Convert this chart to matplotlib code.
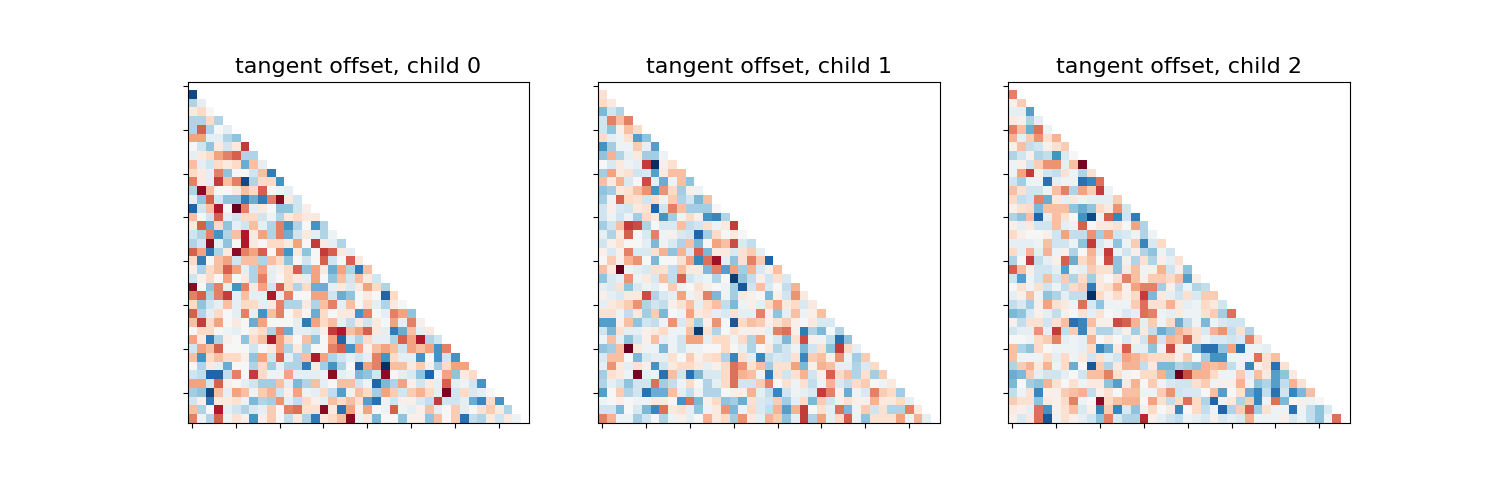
#!/usr/bin/env python3
import numpy as np
import matplotlib
matplotlib.use("Agg")
import matplotlib.pyplot as plt

# cell values, row by row (row 0 is empty), tenths of the colour range
CHILD_0 = [
    [],
    [-9],
    [-3, -1],
    [1, 2, 0],
    [-3, -3, 2, -3],
    [-3, 6, -3, 0, -1],
    [4, 4, -1, -1, -3, -4],
    [0, -2, -4, 1, -2, 1, 7],
    [-1, 1, 2, 4, 5, 6, -3, -3],
    [3, -1, -2, 2, 1, 2, -5, 3, -1],
    [2, 1, -1, 5, -4, 0, 0, -2, 3, -7],
    [5, 1, -1, 7, 3, 5, -9, -3, 2, 2, -6],
    [-3, 9, 3, 0, 0, 1, 3, 2, 6, 0, -0.5, -1],
    [-1, -4, 6, -2, -4, -4, -7, -5, -7, 5, 9, 1, -2],
    [-8, -2, 3, 8, 0, 10, 5, -1, 1, 0, -4, -4, -2, 0.5],
    [3, 0, -2, 6, -1, -2, 2, 2, -2, -0.5, -3, 1, 2, 1, 1],
    [1, 6, -5, 2, -4, -1, -2, 3, -1, -3, 5, -6, -3, 0, -6, -3],
    [-2, -3, 5, -6, -3, 3, 8, 1, 4, -3, 5, -5, -2, 1, -1, -3, -0.5],
    [-3, -2, 9, -1, -4, 0, 8, 1, 0, 2, 2, 1, 4, 0, 7, 1, -1, -3],
    [6, 4, -7, -3, 1, 9, 5, 4, 6, 0, 5, -6, 1, -4, 0, 7, 6, 1, -1],
    [2, -7, 0, 3, 4, -2, 3, 3, -3, 3, 2, -4, 0, -2, 0, 6, -2, 0, 6, 1],
    [0.5, -3, 2, 3, 6, 4, -1, -3, 4, -1, 0.5, 2, 6, -4, 4, 1, -5, 4, -3, -7, 3],
    [-2, 0.5, 2, 0, 4, 0, 1, -3, 5, -1, 0, 2, 1, -1, 4, 0, -4, 3, -2, 3, 1, -2],
    [9, 0, -4, 5, -1, -6, 5, 1, 4, -2, 6, 2, -3, 2, -5, -5, -1, 1, -1.5, 1, 4, 2, -3],
    [5, 6, -3, 5, 7, -1, 3, -1, -1, 8, -1, 5, 0, 0, 4, 4, -2, -5, -4, 0, 1, 0, -8, 2],
    [2, -4, -2, -1, 3, -1, 2, 2, -1, 1, 5, -3, -3, 1, -3, 3, 5, -1, 3, 0, 2, -1, -3, 1, 0],
    [6, -3, -1, 2, 0, -1, 5, -1, -6, 3, 5, 0, 2, 0, -5, 2, 0, 1, 1, -6, 5, 0, -1, 5, 4, -4],
    [3, 7, 2, 4, 0, 1, 0, -5, 4, 0, 0, 0, -1, -7, 4, 2, 3, -1, -2.5, 1, -2, 1, 0, 4, -1, 5, 0.5],
    [0, 2, 2, 0, -0.5, -1, 0, 1, 2, -3, 5, -5, -1, -1, -1.5, 0.5, 7, 8, 3, 4, 6, 1, -1, -7, -5, 3, -1, 1],
    [4, 1, -7, -3, 0.5, 0, -4, 2, 3, 8, 4, 2, 0, 3, -4, 0, 4, -8, -1.5, -3, 2, -1, -1, -3, 6, 4, 8, -3, -2],
    [-2, 4, 3, 6, 0, 0, 0, -2, 0, 1, 4, -3, 1, -3, 0, 0, 5, 6, -6, 4, 0.5, 3, 4, 3, -2, 4, 3, 4, -6, 5],
    [3, -6, 2, 3, 2, 2, 0.5, -4, 4, -2, 6, -1, -3, 3, 8, 4, -3, -2, -1, -2, -1, 5, -6, 2, -1, -1, -6, 0, -6, -2, -6],
    [0, -3, 1, -1, -5, 0, 0, -3, 2, -3.5, -1, -3, -3, -7, 1, -3.5, -6, -3, 0, -8, 4, 5, -10, 3, 3, 1, 2.5, 0.5, -3.5, 2, 4, 4],
    [-2, -2.5, -8, -8, -2.5, 5, 0, 7, 2, -0.5, -0.5, 4, -1, -1, -1, -0.5, 9, -1, -0.5, -4.5, -4, -2, 9, 0, -1, -1.5, -4, -8, -0.5, 4, -4, 1, 2],
    [4, 4, -2, 6, 0.5, 0, -1, -2, -3.5, -3.5, 3, -1, -4.5, -3, 3, -1, 0, 3, 3, -2, -0.5, -8, -4.5, -3, 4, 0.5, -2, 1, -1, 6, -1, -0.5, -2, -6],
    [-3.5, -4, -9, 3, -1, 4, 3, -0.5, 2.5, 3.5, -2, 0.5, 4, -0.5, -1, 2, -2.5, -5.5, 0.5, 3, 2, -3.5, 4, 2.5, -2, 2.5, 3.5, 2, -1, 9.5, -2, 2, -1.5, -1, 0],
    [-2, 0.5, -7, 1, 1, 1.5, -0.5, -4.5, -3, -3.5, 4.5, -1, -2.5, 2, 0.5, -1, 3, 2, 3, 1.5, -5.5, -7.5, -0.5, -2, 0.5, 0.5, -1.5, -2.5, 7, -2, -2, -1, -5, -6.5, 2, -6],
    [3, -3, 0, 8, -1, -2, -3, -1.5, -1, 2.5, 0, 5, 5.5, 1.5, 1.5, 9, 1, -7.5, 4, 0.5, 4, 0, -0.5, 6, -0.5, -1, 0.5, 3, -1, 0, 2.5, -1, 0, 1.5, 2.5, 1, -3],
    [5, -0.5, -3, 6, -0.5, 1.5, 0.5, -6, 0.5, 2.5, 0, -2.5, 1, -3, -7, 1, 2, 3, 9, -0.5, 1, -4.5, 0, 0, -4, 0.5, 0.5, -4, 3, 0, 2.5, -7.5, -2.5, -3, 1, -2, 1, -0.5],
]

CHILD_1 = [
    [],
    [1.5],
    [2, 1],
    [-4.5, -2, -3],
    [-2, 5, 3, 5],
    [-2, -4, 0.5, 3, 2],
    [2, -1, -0.5, 1.5, -5.5, -4],
    [-6, -3.5, -0.5, -0.5, 2.5, -1, -5.5],
    [-4, 3.5, -3, -1, 1, -3.5, -3.5, -0.5],
    [0, -1.5, 1, -0.5, -1, 7, -10, 0.5, 1.5],
    [-3.5, 4, 1, 1.5, -2, -1.5, -5.5, 1, 3, 3],
    [3, 1, 3.5, -1.5, 0, 6.5, -1, -5, -0.5, 3, -4],
    [-4, -3.5, 1, 1.5, 3, 4.5, -6, 4.5, 2, -3.5, 0.5, -0.5],
    [-3.5, -0.5, 6, 2, 1.5, -2, 2, -0.5, 2.5, -3, -2, -4.5, 3],
    [-2, 0.5, -1.5, -2, 1, 1.5, -8, -2, 5, 3, -3.5, -3.5, -3.5, 0],
    [-2, -0.5, -2, -0.5, -3.5, 2, 1, -6, -3.5, -0.5, 2, 0.5, -6, -6.5, -3],
    [-3.5, -2, 3, 7, 6.5, -3, 0, -1.5, -1.5, 3, -2.5, -2, 1.5, -0.5, 1, 7],
    [-1, -3, 1, 6, 0, -1.5, 5, -0.5, 0.5, -1.5, -2, -8, -3.5, 2, 0, 1, 0],
    [-2, 0.5, 1.5, 0, 0, -1, -4.5, -0.5, -1.5, -3, 3, -4.5, 0, 4, 3, 6.5, -1.5, -2.5],
    [0.5, -1.5, 0.5, 5, -1.5, -1.5, 1.5, 3.5, -4, 3.5, -1.5, 6, -4.5, 1, 1, -1.5, 1.5, 2.5, -1],
    [0, 2.5, 0.5, 3.5, 4.5, 0, -4.5, 0, 0, 1.5, 4, -6.5, 5.5, 8.5, -1, -4, 1.5, 5, 2.5, -8],
    [3, 1, 10, -0.5, -1, -1.5, 1.5, 1.5, -2.5, 3, 1, 1, -4.5, 5, -5.5, 4, -3.5, 3.5, -1.5, 0.5, 3],
    [-4, -1.5, -1, 4.5, -0.5, 1, -1.5, 3, -2.5, 6, -2, -1, -0.5, -3, 0, -9.5, -4, -2.5, 0.5, -2, 1.5, -1.5],
    [-1, -1.5, 1.5, -4, -1.5, -0.5, -1, 0, 2.5, -0.5, 0, 1.5, 0.5, 0, -0.5, -3.5, -8.5, -2, 3, -1.5, 0, -2.5, 3.5],
    [0.5, -1, -1.5, 1, 1, 6.5, -3, -1.5, -1, 4, -0.5, 1, 5, -4.5, -0.5, -3.5, 1, 0.5, 0, -4.5, 0.5, -2, 4.5, 1],
    [-1, 1, 1.5, 2.5, 4.5, -3, -2, -2.5, 0.5, 1.5, 3, -1, 2, 3, -2.5, -4.5, -0.5, 0.5, -1, 2, 4, 1, 2, -1.5, 1],
    [1.5, 1.5, -0.5, -2.5, 1, -3.5, 2.5, -4.5, 0, -0.5, 4, 1, 1.5, -1, -1.5, 1.5, -1, -1, 5, 0.5, -4, -1, 3, -0.5, 0.5, 3],
    [-5.5, -5.5, 0.5, 3, -4, -2, -2.5, -0.5, 4.5, -1.5, 2, -3.5, 0.5, 4.5, 0, -8.5, 2, 3, 2.5, 0.5, 1.5, 2.5, 0.5, 0, 1, -1.5, -1.5],
    [-2, -4.5, 1.5, -1, -1, 0.5, 1, 2, -0.5, -0.5, 3, -9.5, 1.5, -3, 0, 1.5, 0.5, 0.5, 0.5, -1, 5, 5.5, 0.5, -7, -3, -4.5, 0, -3],
    [-0.5, 3, -1, -4, -2, 0.5, 3, -1, -0.5, -2, 4, 4, -1, 2, 2, -0.5, 2, -3, 4, -0.5, -1.5, -4.5, 1.5, 6.5, 0.5, -0.5, -2.5, -7.5, -4],
    [-4, -3.5, 3, 10, 1, -0.5, -0.5, -4.5, -0.5, -2, -0.5, -0.5, 0, 0, 2, 0, -1, -3, 0, 1, -3, -2, -0.5, -4.5, -2, 1.5, -4, 7, 2, -1],
    [-1.5, 3, 3, 0, -4.5, -1.5, -1, -1, 1.5, 0, 2.5, 0.5, 1.5, 2, -3, -6.5, 1.5, -1, -6.5, -2.5, -1.5, -2, 1.5, -6.5, 2.5, 3, 0.5, 4.5, -0.5, -3.5, 2.5],
    [-1, 4.5, 1, -1, 1.5, 0.5, -6, -2, 1, 2, 2, 1, -1, 0.5, 2, 5.5, 4.5, 1.5, 3, -3.5, 1.5, 1.5, 4, -4.5, 0.5, 3.5, 3, -1, -1, -3, -1.5, 2],
    [-3.5, 1.5, 1, -0.5, 9.5, -1, -0.5, -7.5, 3, -2, -7.5, -4.5, -1.5, -1.5, 2, 5.5, 3.5, 3, -0.5, -7, 1.5, -2, 1.5, 3.5, -2, 0.5, 6, 2, 3, -3, 1.5, -3.5, 2.5],
    [-3, -1, -2, -4, -2, -2, 5.5, -3.5, -2.5, -0.5, 2, 0, -3, -1, 2, 5.5, -2, -2, 2.5, 5, 0, 1.5, -0.5, 1.5, -2.5, -0.5, 3.5, -1.5, -2.5, 2, 2.5, 0, -0.5, 1],
    [-5.5, 0, 2.5, -3, -2, -7.5, -5, -5, 3, -1, -2.5, -0.5, -3, -3, 0, 0.5, 0.5, 3.5, -1, -2.5, -6.5, -2, -0.5, -1, -1.5, 7, 5, 0.5, -5, -0.5, -1.5, 5, 2.5, 2, -3.5],
    [-0.5, 0, 0.5, 0, -0.5, -0.5, 1, 1, 0, -6, 5.5, -4.5, 0.5, 2, -4, -3.5, -5, 1.5, -1.5, -2, 2.5, -3.5, -1, 2, -4.5, 2.5, -2, 0.5, 1.5, 0.5, 0.5, 3.5, 1, 1, 2, -1],
    [-2, -2, -4.5, 0, -1.5, -4.5, -6.5, 5.5, 1, 1.5, -1, -4, -0.5, 1, 4.5, -4.5, -0.5, 2, -1.5, -2.5, 3.5, -5.5, 3.5, 7, 0, 1.5, -1, 5.5, -4.5, -0.5, 2.5, -2, 1.5, -3, -3, 5, 1],
    [5, 3.5, -0.5, -0.5, -3.5, -2, 0, -3, -0.5, 0.5, -1, 0, 3.5, 1, 2, -3.5, 4.5, 1, -1, 3.5, 2.5, -4, -1, 7, -3, 4, -1, 2, 6, -0.5, -4, 1.5, 1.5, 1.5, 4, -0.5, 3.5, -1],
]

CHILD_2 = [
    [],
    [5],
    [0.5, 2.5],
    [-1, -1, -5.5],
    [1, 0.5, -3, -1],
    [5, 3, -5, 5.5, -0.5],
    [3.5, -1, 2.5, 4.5, 1.5, 3.5],
    [0.5, 3, -2.5, -2, 0.5, 1.5, 2.5],
    [-3, -2, 0.5, -3, -2.5, -6, -1.5, 0],
    [-0.5, 0.5, -2, 2.5, 4.5, 4.5, -1, 3, 9.5],
    [-0.5, 4, 7, 0.5, -2, -2.5, 1.5, -0.5, -3, 1.5],
    [-2, -3.5, -0.5, -0.5, -7.5, -1, -0.5, -0.5, -7.5, -6.5, 5.5],
    [3, 1.5, -2, -2, -0.5, 3, 5, -3, 4, 2.5, 7, -0.5],
    [2, -2.5, -2, 5, -5, 1, -1, 1, -0.5, -1, -1, -1, 2.5],
    [0.5, 1.5, 2, -4.5, 3, 3, 3, -4, -5, -4, 2, 1, 4.5, -2],
    [-3, -4, 3, -8, -1, 3, 1.5, 0, -6, -9, -0.5, 6, -6.5, -2, -7],
    [0.5, -1, 1, -2, -2, 3, -1, -0.5, 6, 0, 1, 1, 1.5, 0, 4, -3],
    [2, 0.5, 0, 0, 0.5, -2, 4, -2.5, -2.5, 4.5, -3.5, 4, -2, -1.5, -0.5, -3, -0.5],
    [-1, -1, -1, -0.5, 3, -2, -2, -0.5, -4, 7, -1.5, -0.5, -4, -0.5, 2.5, -6.5, -1.5, 2],
    [2, -1, 3.5, -1, 3.5, -0.5, 0.5, -3, 0, 3.5, -1, 7, -0.5, -2, 0.5, -3, -4, -0.5, -2],
    [-3, 0, 7, -2.5, -1, 0.5, 6, -5, 2, 3, 0, 6.5, -4, 0.5, -3, 1.5, -3, 0.5, -1, 1.5],
    [6, 3, 0.5, -2, -2, -1, -5.5, -0.5, -1, 2.5, 1.5, 1.5, -4, 1, 3, -0.5, 0.5, 3.5, -2, 0.5, -4],
    [-2, -5.5, -0.5, -2, 3, -2, 2.5, -3, 2, -3.5, 1, 0, 1.5, 5, 3, 0.5, 2.5, 2.5, 2, 3, -5.5, 0.5],
    [0, 1.5, -0.5, 1.5, -2, -0.5, -2.5, 2, 2.5, -7, 1, 1.5, 3.5, 0.5, 4, 5, 5, -3.5, 0.5, -2.5, -0.5, -3, -2.5],
    [-1, 0.5, 3, -0.5, -4, -3, -1, -2.5, -2.5, -10, 2, 0.5, 2, 0.5, 2, 7, -4.5, 1, -1, -2, 1.5, -1.5, 2.5, 2.5],
    [-2.5, -1.5, -3.5, 0.5, 4, 1.5, 1, -0.5, 5.5, -1.5, -4, -0.5, -0.5, -0.5, 2.5, 5.5, 1.5, 1.5, 3.5, 1, -1, -0.5, 2, 1, -2],
    [-4.5, -4, -1.5, 0.5, -1, -2.5, 0.5, 0, 1.5, -1, 1.5, 0, -0.5, -1.5, -1, 5.5, 5, -0.5, -1, 1, -0.5, -0.5, 1.5, 2.5, -3.5, 5.5],
    [0.5, -2.5, 1.5, 1.5, -2, 1.5, 3, -7.5, -6.5, 3, 0.5, 0.5, 6.5, 6, 3.5, -1, 2.5, -0.5, 2, -5, -2.5, -0.5, -4.5, -0.5, -1.5, -2, -2],
    [-2, -1, -1, 4.5, -1, 7, -2.5, 2.5, -6.5, 1.5, -3, -3, -1.5, 0.5, -3.5, 1, -2.5, -5, -4, 3.5, 2.5, 1.5, -1.5, 3.5, 4.5, -2.5, 1.5, -3],
    [0, 0, -0.5, 2, 2.5, 5, -1, -0.5, -1, 3.5, 0, 1, 0, -1.5, 0.5, -2, 4.5, -2, 3.5, 3, 6, 1.5, -0.5, -1.5, -1.5, -2, -1.5, 5, 1.5],
    [3, -3, -4, 2, 0, -0.5, -0.5, -0.5, -1, 2, -6.5, -5, 1, 6, -1, -1, -4, -0.5, 6.5, 0.5, -0.5, -5, -7.5, -7.5, -4, 4, -7.5, -0.5, -0.5, -1],
    [3, -0.5, -0.5, -0.5, 2, -1, 2, -0.5, 1, -2, 1.5, -1, -2, 4, 3.5, 2.5, 2, 2, 2, 0.5, 2.5, 0, -3.5, -6, -6, -0.5, -0.5, -0.5, 5.5, 1.5, 3],
    [-3, 2.5, 3.5, 1, 3.5, -0.5, 2, -5, 0, -8.5, 2.5, -3, 1, 3.5, 3.5, -2.5, 1, -4.5, -4.5, -3, -3.5, -4, 3.5, 3, 3.5, -2.5, -0.5, -6.5, 0.5, 1.5, -7.5, 1.5],
    [-5, -4.5, 2.5, -1, -2, -2, -1, 0, -2, 3, 3, 5, 1.5, -0.5, 0, 2, 2, 3.5, -4, 10, 6.5, 3.5, 3.5, 2, -0.5, -0.5, 2.5, -1, 3, 1, -5.5, -4, 1],
    [-4.5, 0, -3.5, -4, 3.5, 1.5, 0, 1.5, -0.5, 1, 1, -4, -5.5, 1, 3.5, 0, 2.5, -0.5, -1.5, -2, -2, 1.5, 2.5, -0.5, 0.5, 0.5, 3.5, -0.5, -4, -3, -5.5, -2.5, 3.5, 1.5],
    [-2.5, -0.5, 1.5, -6.5, 0.5, 0.5, 2.5, 3, 3.5, -2.5, 0.5, 1.5, 0, 3, 3, -0.5, -0.5, 2.5, 4.5, -2, -1.5, -1.5, 0, 3, -5.5, 0, 1.5, -5, -6.5, -2.5, -7.5, -2, -6.5, -4.5, 3],
    [2.5, 1.5, 1.5, -4, 1, 0.5, 2, 5, -0.5, 0, 9, 2, 3, 3.5, 3.5, 0, 4, 1.5, -2.5, 2, 5.5, 2, -3, -8, -0.5, 1, -3, 2.5, -6.5, -0.5, 5.5, -4.5, 0, 0.5, -0.5, 0],
    [1, 0.5, -1, 5.5, -6, 0.5, 1.5, 3, -1.5, 0.5, -6.5, 2.5, -6.5, -1.5, -4, 0.5, 2, 0, 1, -6.5, 0, 2, -2.5, -0.5, -8, -3, 2.5, 6, -3.5, 1.5, -0.5, -0.5, -7.5, -0.5, -2.5, -4, -1.5],
    [0.5, -1.5, 1, 5.5, -8.5, -0.5, 1.5, 0.5, -1, -2, -4, 5, -1.5, -3, -3, 7.5, 0.5, -1, -2, -2.5, -0.5, -1, -1.5, 0.5, -1.5, -1, -1.5, 3.5, -0.5, -0.5, -0.5, 0.5, -1.5, -0.5, -2.5, -4, -0.5, 5.5],
]

TITLES = ["tangent offset, child 0", "tangent offset, child 1", "tangent offset, child 2"]
TICKS = list(range(0, 39, 5))

fig, axes = plt.subplots(1, 3, figsize=(15, 5))
for ax, rows, title in zip(axes, [CHILD_0, CHILD_1, CHILD_2], TITLES):
    n = len(rows)
    grid = np.full((n, n), np.nan)
    for i, row in enumerate(rows):
        if len(row) != i:
            print("row length", title, i, len(row))
        grid[i, :len(row)] = row
    ax.imshow(grid, cmap="RdBu_r", vmin=-10, vmax=10)
    ax.set_title(title, fontsize=16)
    ax.set_xticks(TICKS)
    ax.set_yticks(TICKS)
    ax.set_xticklabels([])
    ax.set_yticklabels([])

fig.savefig("out.png", dpi=100)
